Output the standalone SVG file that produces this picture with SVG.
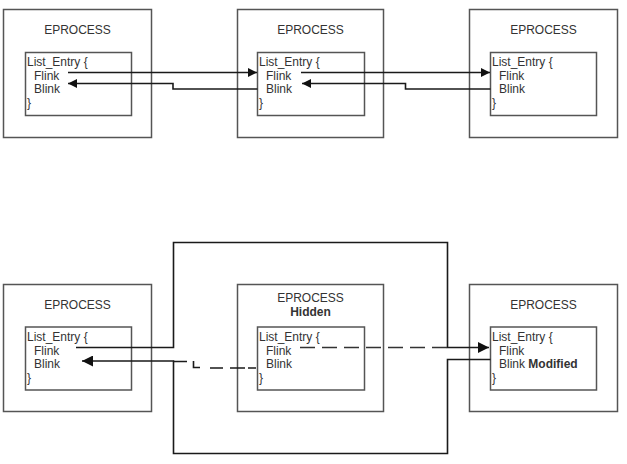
<svg xmlns="http://www.w3.org/2000/svg" width="627" height="464" viewBox="0 0 627 464">
<style>
.box{fill:#fff;stroke:#555;stroke-width:1.5}
.t{font-family:"Liberation Sans",Arial,sans-serif;font-size:12px;fill:#333}
.c{font-family:"Liberation Sans",Arial,sans-serif;font-size:12px;fill:#333;text-anchor:middle}
.b{font-weight:bold}
.ln{fill:none;stroke:#1a1a1a;stroke-width:1.6}
.dash{fill:none;stroke:#333;stroke-width:1.6;stroke-dasharray:15 7}
</style>
<defs>
<marker id="as" viewBox="0 0 10 10" refX="10" refY="5" markerUnits="userSpaceOnUse" markerWidth="10" markerHeight="9" orient="auto"><path d="M0,0 L10,5 L0,10 z" fill="#111"/></marker>
<marker id="al" viewBox="0 0 10 10" refX="10" refY="5" markerUnits="userSpaceOnUse" markerWidth="15" markerHeight="11" orient="auto"><path d="M0,0 L10,5 L0,10 z" fill="#111"/></marker>
</defs>
<rect width="627" height="464" fill="#fff"/>

<g id="top1">
<rect class="box" x="3.5" y="9.5" width="148" height="128"/>
<text class="c" x="77.5" y="34">EPROCESS</text>
<rect class="box" x="25.5" y="52.5" width="106" height="63"/>
<text class="t" x="27" y="66">List_Entry {</text>
<text class="t" x="34" y="79.5">Flink</text>
<text class="t" x="34" y="93">Blink</text>
<text class="t" x="27" y="107">}</text>
</g>
<g id="top2">
<rect class="box" x="237.5" y="9.5" width="146" height="128"/>
<text class="c" x="310.5" y="34">EPROCESS</text>
<rect class="box" x="257.5" y="52.5" width="107" height="63"/>
<text class="t" x="259" y="66">List_Entry {</text>
<text class="t" x="266" y="79.5">Flink</text>
<text class="t" x="266" y="93">Blink</text>
<text class="t" x="259" y="107">}</text>
</g>
<g id="top3">
<rect class="box" x="469.5" y="9.5" width="148" height="128"/>
<text class="c" x="543.5" y="34">EPROCESS</text>
<rect class="box" x="490.5" y="52.5" width="106" height="63"/>
<text class="t" x="492" y="66">List_Entry {</text>
<text class="t" x="499" y="79.5">Flink</text>
<text class="t" x="499" y="93">Blink</text>
<text class="t" x="492" y="107">}</text>
</g>

<g id="bot1">
<rect class="box" x="3.5" y="284.5" width="148" height="127"/>
<text class="c" x="77.5" y="309">EPROCESS</text>
<rect class="box" x="25.5" y="327" width="106" height="63"/>
<text class="t" x="27" y="341">List_Entry {</text>
<text class="t" x="34" y="354.5">Flink</text>
<text class="t" x="34" y="368">Blink</text>
<text class="t" x="27" y="382">}</text>
</g>
<g id="bot2">
<rect class="box" x="237.5" y="284.5" width="146" height="127"/>
<text class="c" x="310.5" y="302">EPROCESS</text>
<text class="c b" x="310.5" y="316">Hidden</text>
<rect class="box" x="257.5" y="327" width="107" height="63"/>
<text class="t" x="259" y="341">List_Entry {</text>
<text class="t" x="266" y="354.5">Flink</text>
<text class="t" x="266" y="368">Blink</text>
<text class="t" x="259" y="382">}</text>
</g>
<g id="bot3">
<rect class="box" x="469.5" y="284.5" width="148" height="127"/>
<text class="c" x="543.5" y="309">EPROCESS</text>
<rect class="box" x="490.5" y="327" width="106" height="63"/>
<text class="t" x="492" y="341">List_Entry {</text>
<text class="t" x="499" y="354.5">Flink</text>
<text class="t" x="499" y="368">Blink <tspan class="b">Modified</tspan></text>
<text class="t" x="492" y="382">}</text>
</g>

<g id="connectors">
<path class="ln" d="M68,72.5 H257" marker-end="url(#as)"/>
<path class="ln" d="M257.5,89 H173 V83.5 H68" marker-end="url(#as)"/>
<path class="ln" d="M301,72.5 H490" marker-end="url(#as)"/>
<path class="ln" d="M490.5,89 H405.5 V83.5 H302" marker-end="url(#as)"/>

<path class="ln" d="M76,347.5 H173.5 V242.5 H447.5 V347.5 H489" marker-end="url(#al)"/>
<path class="ln" d="M490.5,359.5 H447.5 V453.5 H173.5 V361 H82" marker-end="url(#al)"/>
<path class="dash" d="M300,347.5 H447"/>
<path class="ln" d="M248,368 H256 M230,368 H245 M210,368 H223 M193.5,361 V367.5 H200 M173,361.5 H187"/>
</g>
</svg>
